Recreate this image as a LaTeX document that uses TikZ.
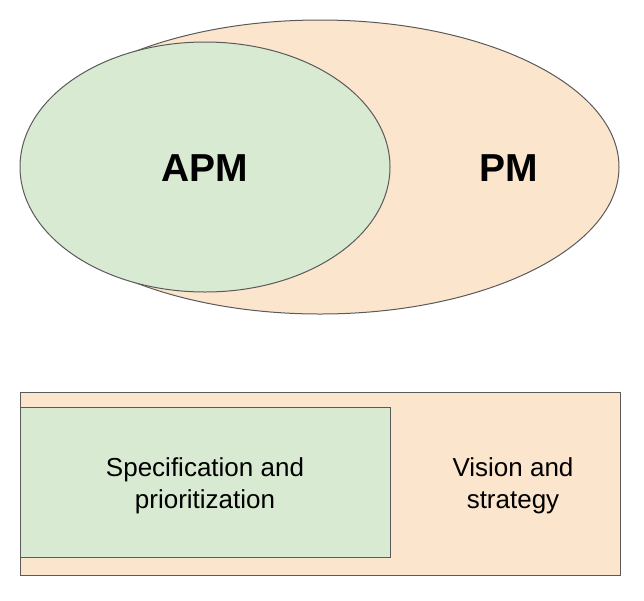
\documentclass[tikz,border=0pt]{standalone}
\usepackage{fontspec}
\setmainfont{Liberation Sans}
\usetikzlibrary{shapes.geometric}
\definecolor{apmgreen}{HTML}{D9EAD3}
\definecolor{pmorange}{HTML}{FCE5CD}
\definecolor{edgegray}{HTML}{5A5A5A}
\begin{document}
\begin{tikzpicture}[x=1pt,y=-1pt,
  blob/.style={ellipse, draw=edgegray, line width=1pt, inner sep=0pt},
  box/.style={draw=edgegray, line width=1pt},
  big/.style={font=\bfseries\fontsize{39}{44}\selectfont},
  lbl/.style={align=center, font=\fontsize{26}{32}\selectfont, inner sep=0pt}]
\useasboundingbox (0,0) rectangle (644,600);
\node[blob, fill=pmorange, minimum width=598pt, minimum height=294pt] (pm) at (320,167) {};
\node[blob, fill=apmgreen, minimum width=370pt, minimum height=250pt] (apm) at (205,167) {};
\node[big] (apmt) at (205,168) {APM};
\node[big] (pmt) at (509,168) {PM};
\draw[box, fill=pmorange] (20,392) rectangle (620,575);
\draw[box, fill=apmgreen] (20,407) rectangle (390,557);
\node[lbl] (spec) at (205,486) {Specification and\\prioritization};
\node[lbl] (vis) at (513,486) {Vision and\\strategy};
\end{tikzpicture}
\end{document}
